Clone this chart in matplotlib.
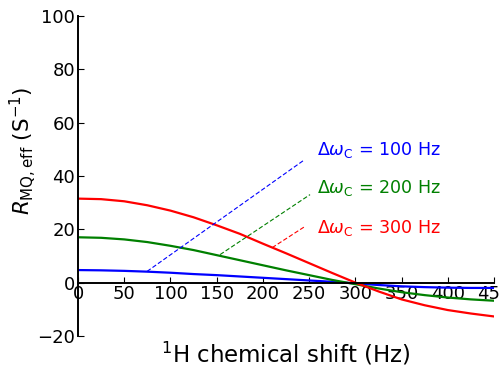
import numpy as np
import matplotlib.pyplot as plt

# chemical shift (Hz)
shift = [0, 25, 50, 75, 100, 125, 150, 175, 200, 225, 250, 275, 300, 325, 350, 375, 400, 425, 450]

# R_MQ,eff for each delta omega_C
r_100 = [4.7, 4.6, 4.4, 4.1, 3.7, 3.2, 2.8, 2.3, 1.8, 1.3, 0.8, 0.3, -0.3, -0.9, -1.4, -1.7, -1.9, -2.0, -2.0]
r_200 = [17.0, 16.8, 16.2, 15.2, 13.8, 12.2, 10.3, 8.4, 6.5, 4.6, 2.8, 1.0, -0.6, -2.2, -3.6, -4.7, -5.6, -6.3, -6.8]
r_300 = [31.5, 31.3, 30.5, 29.0, 27.0, 24.5, 21.5, 18.3, 14.6, 11.0, 7.3, 3.6, 0.0, -3.3, -6.3, -8.5, -10.3, -11.6, -12.7]

labels = ['100 Hz', '200 Hz', '300 Hz']
colors = ['#0000ff', '#008000', '#ff0000']
# annotation leader lines: (x0, y0, x1, y1) and label positions
leaders = [(74.7, 4.2, 243.5, 45.7), (153.7, 10.5, 251, 33.0), (210, 13.1, 245.7, 21.1)]
label_pos = [(258, 49.8), (258, 35.6), (258, 20.6)]

fig = plt.figure(figsize=(5, 3.72), dpi=100)
ax = fig.add_axes([0.156, 0.097, 0.832, 0.860])

for y, c in zip([r_100, r_200, r_300], colors):
    ax.plot(shift, y, color=c, lw=1.6)

for (x0, y0, x1, y1), (tx, ty), lab, c in zip(leaders, label_pos, labels, colors):
    ax.plot([x0, x1], [y0, y1], color=c, lw=0.8, ls='--', dashes=(4, 2))
    ax.text(tx, ty, r'$\Delta\omega_\mathregular{C}$ = ' + lab, color=c,
            fontsize=12.6, va='center', ha='left')

ax.set_xlim(0, 450)
ax.set_ylim(-20, 100)
ax.set_xticks(np.arange(0, 451, 50))
ax.set_yticks(np.arange(-20, 101, 20))

ax.spines['top'].set_visible(False)
ax.spines['right'].set_visible(False)
ax.spines['bottom'].set_position(('data', 0))
for s in ['left', 'bottom']:
    ax.spines[s].set_linewidth(1.4)
ax.tick_params(direction='in', length=4, labelsize=13, pad=2)

ax.set_xlabel(r'$^\mathregular{1}$H chemical shift (Hz)', fontsize=16.5)
ax.xaxis.set_label_coords(0.5, -0.012)
ax.set_ylabel(r'$R_\mathregular{MQ,eff}$ (S$^\mathregular{-1}$)', fontsize=15.5)
ax.yaxis.set_label_coords(-0.095, 0.58)

fig.savefig('out.png', dpi=100)
